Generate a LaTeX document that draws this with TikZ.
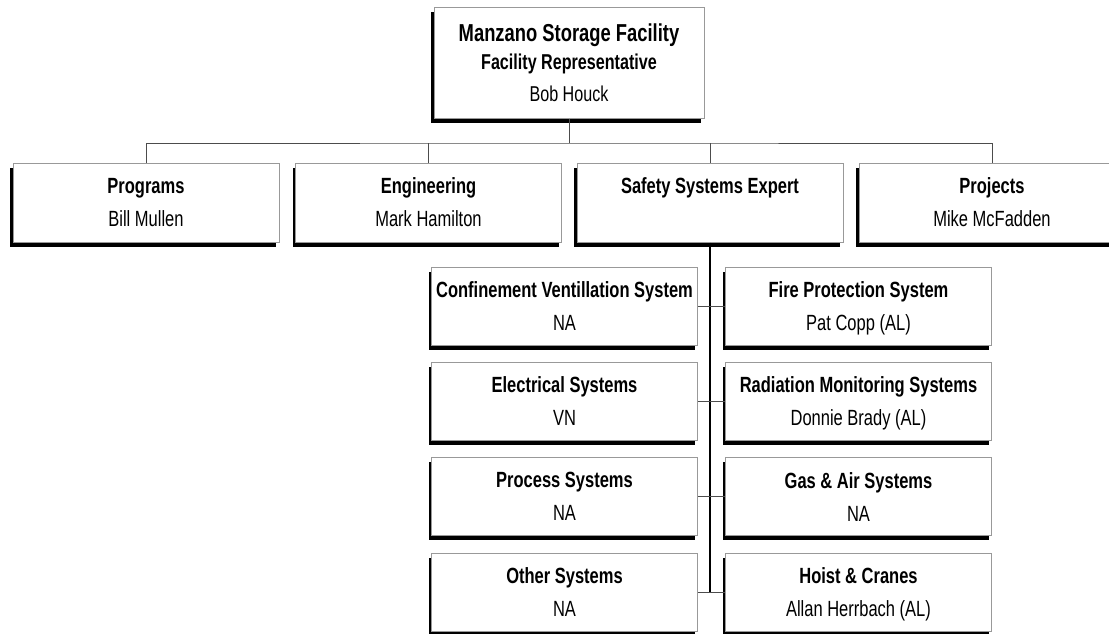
\documentclass[tikz,border=0pt]{standalone}
\usepackage{fontspec}
\setmainfont{Liberation Sans}[FakeStretch=0.75]
\usetikzlibrary{shadows}

\begin{document}
\begin{tikzpicture}[x=1pt, y=-1pt,
    unit/.style={draw=gray!80, line width=1pt, fill=white, align=center, inner sep=0pt,
      text depth=0pt, font=\fontsize{22}{33}\selectfont,
      general shadow={fill=black, shadow xshift=-3pt, shadow yshift=-4.5pt}},
    dept/.style={unit, minimum width=266pt, minimum height=79pt},
    sys/.style={unit, minimum width=266pt, minimum height=78pt},
    link/.style={draw=black!70, line width=1pt},
    spine/.style={draw=black, line width=1.6pt}]
  \clip (0,0) rectangle (1109,633);
  % facility head
  \node[unit, minimum width=270pt, minimum height=111pt, font=\fontsize{21.5}{28}\selectfont] (head) at (569,62.5)
    {{\fontsize{24.5}{28}\selectfont\bfseries Manzano Storage Facility}\\ \textbf{Facility Representative}\\[4pt] Bob Houck};
  % departments
  \node[dept] (prog) at (146,202.5) {\textbf{Programs}\\ Bill Mullen};
  \node[dept] (eng) at (428.5,202.5) {\textbf{Engineering}\\ Mark Hamilton};
  \node[dept] (safety) at (710,202.5) {\textbf{Safety Systems Expert}\\ ~};
  \node[dept] (proj) at (992,202.5) {\textbf{Projects}\\ Mike McFadden};
  % safety systems
  \node[sys] (cvs) at (564.5,306) {\textbf{Confinement Ventillation System}\\ NA};
  \node[sys] (fps) at (858.5,306) {\textbf{Fire Protection System}\\ Pat Copp (AL)};
  \node[sys] (elec) at (564.5,401.3) {\textbf{Electrical Systems}\\ VN};
  \node[sys] (rms) at (858.5,401.3) {\textbf{Radiation Monitoring Systems}\\ Donnie Brady (AL)};
  \node[sys] (proc) at (564.5,496.7) {\textbf{Process Systems}\\ NA};
  \node[sys] (gas) at (858.5,496.7) {\textbf{Gas \& Air Systems}\\ NA};
  \node[sys] (other) at (564.5,592) {\textbf{Other Systems}\\ NA};
  \node[sys] (hoist) at (858.5,592) {\textbf{Hoist \& Cranes}\\ Allan Herrbach (AL)};
  % connectors
  \coordinate (bus) at (569,143);
  \draw[link] (head.south) -- (bus);
  \draw[link] (prog.north) |- (bus) -| (proj.north);
  \draw[link] (eng.north) -- (eng.north |- bus);
  \draw[link] (safety.north) -- (safety.north |- bus);
  \draw[spine] (safety.south) -- (safety.south |- other.east);
  \foreach \l/\r in {cvs/fps, elec/rms, proc/gas, other/hoist}
    \draw[link] (\l.east) -- (\r.west);
\end{tikzpicture}
\end{document}
